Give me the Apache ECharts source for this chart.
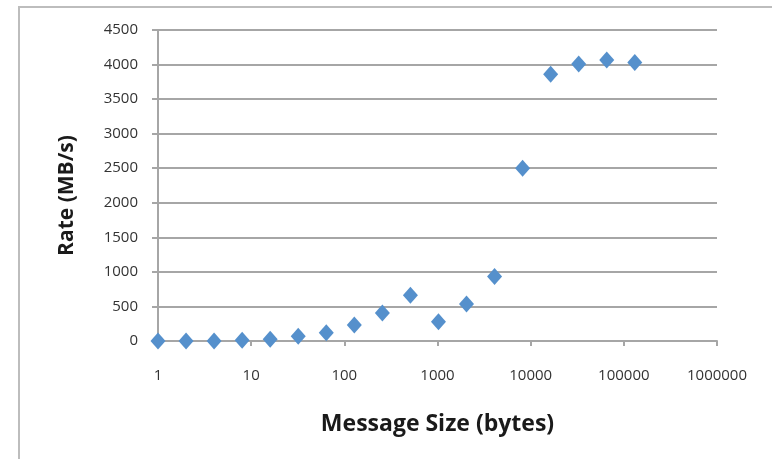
<!DOCTYPE html>
<html>
<head>
<meta charset="utf-8">
<script src="https://cdn.jsdelivr.net/npm/echarts@6/dist/echarts.min.js"></script>
<style>
html,body{margin:0;padding:0;background:#fff;}
#frame{position:absolute;left:18px;top:6px;width:760px;height:460px;border:2px solid #bdbdbd;box-sizing:border-box;}
#chart{position:absolute;left:0;top:0;width:772px;height:459px;}
</style>
</head>
<body>
<div id="frame"></div>
<div id="chart"></div>
<script>
const messageSizes = [1, 2, 4, 8, 16, 32, 64, 128, 256, 512, 1024, 2048, 4096, 8192, 16384, 32768, 65536, 131072];
const rates = [0, 0, 0, 10, 24, 68, 121, 232, 406, 662, 280, 537, 933, 2500, 3859, 4009, 4067, 4028];
const yTicks = [0, 500, 1000, 1500, 2000, 2500, 3000, 3500, 4000, 4500];
const xTitle = 'Message Size (bytes)';
const yTitle = 'Rate (MB/s)';

const chart = echarts.init(document.getElementById('chart'), null, {renderer: 'canvas'});
const labelFont = {fontFamily: 'Open Sans, Liberation Sans, sans-serif', fontSize: 15, color: '#333333'};
chart.setOption({
  animation: false,
  backgroundColor: 'transparent',
  grid: {left: 158, right: 55, top: 30, bottom: 118, containLabel: false},
  xAxis: {
    type: 'log', logBase: 10, min: 1, max: 1000000,
    name: xTitle, nameLocation: 'middle', nameGap: 72,
    nameTextStyle: {fontFamily: 'Open Sans, Liberation Sans, sans-serif', fontSize: 23, fontWeight: 'bold', color: '#1a1a1a'},
    axisLine: {show: true, lineStyle: {color: '#a6a6a6', width: 2}},
    axisTick: {show: true, inside: false, length: 5, lineStyle: {color: '#a6a6a6', width: 2}},
    minorTick: {show: false},
    splitLine: {show: false},
    axisLabel: Object.assign({margin: 27, formatter: v => String(Math.round(v))}, labelFont)
  },
  yAxis: {
    type: 'value', min: 0, max: 4500, interval: 500,
    name: yTitle, nameLocation: 'middle', nameGap: 80, nameRotate: 90,
    nameTextStyle: {fontFamily: 'Open Sans, Liberation Sans, sans-serif', fontSize: 21, fontWeight: 'bold', color: '#1a1a1a', padding: [0, 20, 0, 0]},
    axisLine: {show: true, lineStyle: {color: '#a6a6a6', width: 2}},
    axisTick: {show: true, length: 6, lineStyle: {color: '#a6a6a6', width: 2}},
    splitLine: {show: true, lineStyle: {color: '#a6a6a6', width: 2}},
    axisLabel: Object.assign({margin: 20, formatter: v => yTicks.includes(v) ? String(v) : ''}, labelFont)
  },
  series: [{
    type: 'scatter',
    data: messageSizes.map((s, i) => [s, rates[i]]),
    symbol: 'diamond',
    symbolSize: [15, 17],
    itemStyle: {color: '#5590cc', opacity: 1}
  }]
});
</script>
</body>
</html>
